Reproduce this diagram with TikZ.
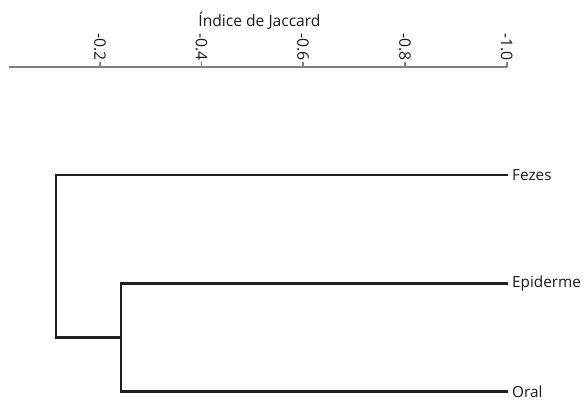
\documentclass[tikz,border=0pt]{standalone}
\usepackage{fontspec}
\setmainfont{Open Sans}
\usepackage{tikz}
\tikzset{
	branch/.style={draw=black!88, line width=2.1pt},
	axis/.style={draw=black!50, line width=1.6pt},
	leaf/.style={anchor=west, inner xsep=4pt, inner ysep=0pt, text=black!90, font=\fontsize{15.3}{18}\selectfont},
	ticklabel/.style={rotate=-90, anchor=east, inner sep=1pt, text=black!90, font=\fontsize{15.8}{18}\selectfont},
}
\begin{document}
\begin{tikzpicture}[x=1pt,y=-1pt]
			\useasboundingbox (0,0) rectangle (585,401);
			
			% axis ends
			\coordinate (axL) at (9,67);
			\coordinate (axR) at (507,67);
			
			% axis title
			\node[anchor=base, inner sep=0pt, text=black!90, font=\fontsize{15.6}{18}\selectfont] (titulo) at (259.5,27) {Índice de Jaccard};
			
			% axis and ticks
			\draw[axis] (axL) -- (axR);
			\foreach \x/\t in {100/-0.2, 201.5/-0.4, 303/-0.6, 405/-0.8, 506.7/-1.0}
				\draw[axis] (\x,67) -- (\x,62.5) node[ticklabel] {\t};
			
			% leaves
			\node[leaf] (fezes) at (508,175) {Fezes};
			\node[leaf] (epiderme) at (508,283.5) {Epiderme};
			\node[leaf] (oral) at (508,391.5) {Oral};
			
			% joins
			\coordinate (n2) at (121,337.5);
			\coordinate (n1) at (56,256);
			
			% branches
			\draw[branch] (fezes.west) -| (n1) |- (n2);
			\draw[branch] (epiderme.west) -| (n2) |- (oral.west);
			
\end{tikzpicture}
\end{document}
